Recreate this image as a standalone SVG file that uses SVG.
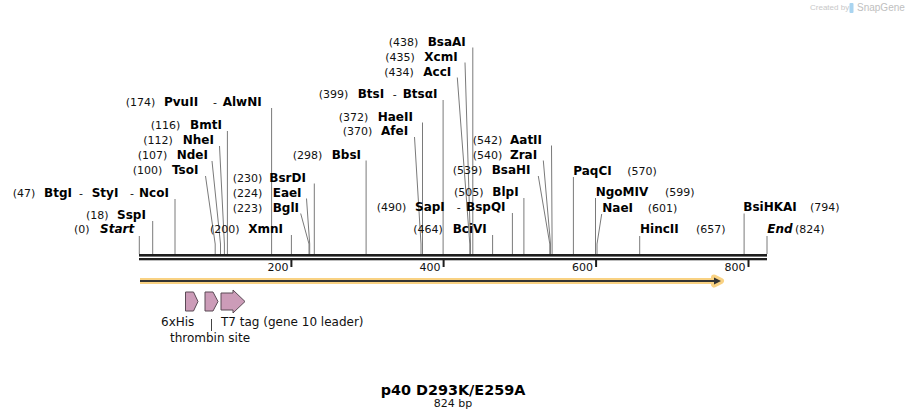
<svg xmlns="http://www.w3.org/2000/svg" width="907" height="420" viewBox="0 0 907 420">
<style>
text{font-family:"DejaVu Sans","Liberation Sans",sans-serif;}
.n{font-size:11px;fill:#111;}
.e{font-size:12px;font-weight:bold;fill:#000;}
.ei{font-size:12px;font-weight:bold;font-style:italic;fill:#000;}
.t{font-size:11px;fill:#111;}
.f{font-size:12px;fill:#111;}
.ln{fill:none;stroke:#7a7a7a;stroke-width:1;}
.feat{fill:#cc9cb8;stroke:#5a4a55;stroke-width:1;}
</style>
<rect width="907" height="420" fill="#fff"/>
<g id="watermark">
<text x="810" y="10" style="font-size:8px;fill:#c8c8c8;font-family:'Liberation Sans',sans-serif">Created by</text>
<rect x="849.5" y="3" width="4" height="10" rx="1" fill="#a9d4f0"/>
<text x="857" y="11" style="font-size:10px;fill:#c0c0c0;font-family:'Liberation Sans',sans-serif">SnapGene</text>
</g>
<g id="connectors">
<path class="ln" d="M139.3 236V254"/>
<path class="ln" d="M152.7 221V254"/>
<path class="ln" d="M175 199V254"/>
<path class="ln" d="M205.5 176L215.2 244V254"/>
<path class="ln" d="M212 161L220.5 244V254"/>
<path class="ln" d="M219.5 146L224.4 244V254"/>
<path class="ln" d="M227.4 131V254"/>
<path class="ln" d="M271.6 108V254"/>
<path class="ln" d="M291.4 235V254"/>
<path class="ln" d="M300.7 213.5L309 244V254"/>
<path class="ln" d="M306.5 198.5L309.7 244V254"/>
<path class="ln" d="M314.3 183.5V254"/>
<path class="ln" d="M366.1 160.5V254"/>
<path class="ln" d="M414.5 137L421 244V254"/>
<path class="ln" d="M422.5 122.5V254"/>
<path class="ln" d="M443.1 100V254"/>
<path class="ln" d="M457.3 77.5L469.8 244V254"/>
<path class="ln" d="M465 62.5L470.5 244V254"/>
<path class="ln" d="M472.8 47.5V254"/>
<path class="ln" d="M492.6 235V254"/>
<path class="ln" d="M512.4 213V254"/>
<path class="ln" d="M523.9 198V254"/>
<path class="ln" d="M538.3 176L549.8 244V254"/>
<path class="ln" d="M543.3 160.5L550.5 244V254"/>
<path class="ln" d="M551.5 145.5L552.1 244V254"/>
<path class="ln" d="M573.4 177V254"/>
<path class="ln" d="M595.5 198V254"/>
<path class="ln" d="M601.7 214L597 244V254"/>
<path class="ln" d="M639.7 236V254"/>
<path class="ln" d="M744.1 213.5V254"/>
<path class="ln" d="M767 236V254"/>
</g>
<g id="sequence">
<rect x="139" y="254" width="628" height="2.6" fill="#1e1e1e"/>
<rect x="139" y="258" width="628" height="2.3" fill="#1e1e1e"/>
<rect x="290.4" y="260" width="2" height="7" fill="#1e1e1e"/>
<rect x="442.6" y="260" width="2" height="7" fill="#1e1e1e"/>
<rect x="595.1" y="260" width="2" height="7" fill="#1e1e1e"/>
<rect x="747.5" y="260" width="2" height="7" fill="#1e1e1e"/>
<text class="t" x="288.5" y="271" text-anchor="end">200</text>
<text class="t" x="440.5" y="271" text-anchor="end">400</text>
<text class="t" x="593" y="271" text-anchor="end">600</text>
<text class="t" x="745.5" y="271" text-anchor="end">800</text>
</g>
<g id="orf">
<path d="M140 281H717M714 277.5L721 281L714 284.5Z" fill="#f7cd78" stroke="#f9d283" stroke-width="6" stroke-linejoin="round"/>
<path d="M140 281H715" stroke="#333" stroke-width="2"/>
<path d="M714 277.5L721 281L714 284.5Z" fill="#333"/>
</g>
<g id="f-6xHis">
<path class="feat" d="M185.5 292H193.5L198 301.5L193.5 311H185.5Z"/>
<text class="f" x="161" y="326">6xHis</text>
</g>
<g id="f-thrombin">
<path class="feat" d="M205 292H213L218 301.5L213 311H205Z"/>
<path class="ln" d="M211.5 319V331" style="stroke:#444"/>
<text class="f" x="210" y="342" text-anchor="middle">thrombin site</text>
</g>
<g id="f-T7">
<path class="feat" d="M221 293H233V290L245 301.5L233 313V310H221Z"/>
<text class="f" x="221" y="326">T7 tag (gene 10 leader)</text>
</g>
<g id="s-start"><text class="n" x="74" y="233">(0)</text><text class="ei" x="100" y="233">Start</text></g>
<g id="s-SspI"><text class="n" x="86" y="218.5">(18)</text><text class="e" x="117" y="218.5">SspI</text></g>
<g id="s-NcoI"><text class="n" x="12.7" y="197">(47)</text><text class="e" x="44" y="197">BtgI</text><text class="n" x="79" y="197">-</text><text class="e" x="91.7" y="197">StyI</text><text class="n" x="130" y="197">-</text><text class="e" x="139" y="197">NcoI</text></g>
<g id="s-TsoI"><text class="n" x="132.7" y="174">(100)</text><text class="e" x="172" y="174">TsoI</text></g>
<g id="s-NdeI"><text class="n" x="137.7" y="159">(107)</text><text class="e" x="176.7" y="159">NdeI</text></g>
<g id="s-NheI"><text class="n" x="143.3" y="144">(112)</text><text class="e" x="182.7" y="144">NheI</text></g>
<g id="s-BmtI"><text class="n" x="150.7" y="129">(116)</text><text class="e" x="190" y="129">BmtI</text></g>
<g id="s-PvuII"><text class="n" x="125.7" y="106">(174)</text><text class="e" x="164" y="106">PvuII</text><text class="n" x="213" y="106">-</text><text class="e" x="222.7" y="106">AlwNI</text></g>
<g id="s-XmnI"><text class="n" x="210" y="232.5">(200)</text><text class="e" x="248.3" y="232.5">XmnI</text></g>
<g id="s-BglI"><text class="n" x="232.7" y="211.5">(223)</text><text class="e" x="272.7" y="211.5">BglI</text></g>
<g id="s-EaeI"><text class="n" x="232.7" y="196.5">(224)</text><text class="e" x="272.7" y="196.5">EaeI</text></g>
<g id="s-BsrDI"><text class="n" x="232.7" y="181.5">(230)</text><text class="e" x="269.3" y="181.5">BsrDI</text></g>
<g id="s-BbsI"><text class="n" x="292.7" y="158.5">(298)</text><text class="e" x="331.7" y="158.5">BbsI</text></g>
<g id="s-AfeI"><text class="n" x="342.7" y="135">(370)</text><text class="e" x="381" y="135">AfeI</text></g>
<g id="s-HaeII"><text class="n" x="338.7" y="120.5">(372)</text><text class="e" x="377.7" y="120.5">HaeII</text></g>
<g id="s-BtsI"><text class="n" x="318.7" y="98">(399)</text><text class="e" x="357.7" y="98">BtsI</text><text class="n" x="392.7" y="98">-</text><text class="e" x="402.7" y="98">BtsαI</text></g>
<g id="s-AccI"><text class="n" x="384.3" y="75.5">(434)</text><text class="e" x="423.3" y="75.5">AccI</text></g>
<g id="s-XcmI"><text class="n" x="385.3" y="60.5">(435)</text><text class="e" x="424.3" y="60.5">XcmI</text></g>
<g id="s-BsaAI"><text class="n" x="388.7" y="45.5">(438)</text><text class="e" x="427.7" y="45.5">BsaAI</text></g>
<g id="s-BciVI"><text class="n" x="413.3" y="233">(464)</text><text class="e" x="452.7" y="233">BciVI</text></g>
<g id="s-SapI"><text class="n" x="376.7" y="211">(490)</text><text class="e" x="415" y="211">SapI</text><text class="n" x="456.7" y="211">-</text><text class="e" x="466" y="211">BspQI</text></g>
<g id="s-BlpI"><text class="n" x="454" y="196">(505)</text><text class="e" x="492.3" y="196">BlpI</text></g>
<g id="s-BsaHI"><text class="n" x="452.7" y="174">(539)</text><text class="e" x="491.7" y="174">BsaHI</text></g>
<g id="s-ZraI"><text class="n" x="472.7" y="158.5">(540)</text><text class="e" x="510" y="158.5">ZraI</text></g>
<g id="s-AatII"><text class="n" x="472.7" y="143.5">(542)</text><text class="e" x="510" y="143.5">AatII</text></g>
<g id="s-PaqCI"><text class="e" x="573.3" y="175">PaqCI</text><text class="n" x="627.3" y="175">(570)</text></g>
<g id="s-NgoMIV"><text class="e" x="595.7" y="196">NgoMIV</text><text class="n" x="665" y="196">(599)</text></g>
<g id="s-NaeI"><text class="e" x="602.3" y="211.5">NaeI</text><text class="n" x="647.7" y="211.5">(601)</text></g>
<g id="s-HincII"><text class="e" x="640" y="233">HincII</text><text class="n" x="696" y="233">(657)</text></g>
<g id="s-BsiHKAI"><text class="e" x="743.3" y="211">BsiHKAI</text><text class="n" x="810" y="211">(794)</text></g>
<g id="s-end"><text class="ei" x="767.3" y="233">End</text><text class="n" x="795" y="233">(824)</text></g>
<g id="title">
<text x="453" y="395" text-anchor="middle" style="font-size:14.4px;font-weight:bold;fill:#000">p40 D293K/E259A</text>
<text x="453" y="407" text-anchor="middle" style="font-size:11px;fill:#111">824 bp</text>
</g>
</svg>
